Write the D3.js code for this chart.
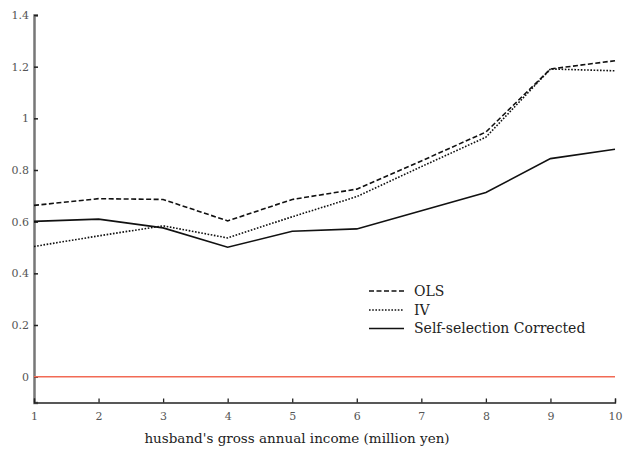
<!DOCTYPE html>
<html><head><meta charset="utf-8">
<script src="https://cdn.jsdelivr.net/npm/d3@7"></script>
<style>body{margin:0;background:#fff}svg{display:block}text{font-family:"DejaVu Serif","Liberation Serif",serif}</style>
</head><body><svg id="c" width="623" height="452"></svg>
<script>
const incomes = [1,2,3,4,5,6,7,8,9,10];
const olsValues = [0.663,0.689,0.686,0.603,0.686,0.726,0.835,0.947,1.191,1.223];
const ivValues  = [0.504,0.545,0.584,0.537,0.619,0.697,0.813,0.927,1.191,1.184];
const scValues  = [0.601,0.610,0.576,0.501,0.563,0.572,0.642,0.713,0.844,0.880];
const yTicks = [0,0.2,0.4,0.6,0.8,1,1.2,1.4];
const xLabel = "husband's gross annual income (million yen)";
const seriesNames = ["OLS","IV","Self-selection Corrected"];

const svg = d3.select("#c");
const x = d3.scaleLinear().domain([1,10]).range([34,615]);
const y = d3.scaleLinear().domain([-0.1,1.4]).range([402.5,15]);

// y axis
const ya = svg.append("g").attr("transform","translate(34,0)")
  .call(d3.axisRight(y).tickValues(yTicks).tickSize(4).tickFormat(d=>d3.format("")(+d.toFixed(1))));
ya.select(".domain").attr("stroke","#777").attr("stroke-width",2.5);
ya.selectAll(".tick line").attr("stroke","#222").attr("stroke-width",1.5);
ya.selectAll(".tick text").attr("x",-5).attr("text-anchor","end").attr("fill","#555").attr("font-size",11);

// x axis
const xa = svg.append("g").attr("transform","translate(0,402.5)")
  .call(d3.axisTop(x).tickValues(incomes).tickSize(4).tickFormat(d3.format("d")));
xa.select(".domain").attr("stroke","#222").attr("stroke-width",1.3);
xa.selectAll(".tick line").attr("stroke","#222").attr("stroke-width",1.3);
xa.selectAll(".tick text").attr("y",10).attr("dy","0.71em").attr("fill","#555").attr("font-size",11);

svg.append("text").attr("x",297).attr("y",443).attr("text-anchor","middle")
  .attr("font-size",13.5).attr("fill","#222").text(xLabel);

// zero line
svg.append("line").attr("x1",x(1)).attr("x2",x(10)).attr("y1",y(0)).attr("y2",y(0))
  .attr("stroke","#f26a55").attr("stroke-width",1.5);

const styles = [
  {vals:olsValues, dash:"5,2.5", w:1.6},
  {vals:ivValues, dash:"1.6,1.6", w:1.6},
  {vals:scValues, dash:null, w:1.6}
];
const line = d3.line().x((d,i)=>x(incomes[i])).y(d=>y(d));
styles.forEach(s=>{
  svg.append("path").datum(s.vals).attr("d",line).attr("fill","none")
    .attr("stroke","#111").attr("stroke-width",s.w)
    .attr("stroke-dasharray",s.dash);
});

// legend
const legY = [291,310,328.5];
styles.forEach((s,i)=>{
  svg.append("line").attr("x1",369).attr("x2",404).attr("y1",legY[i]).attr("y2",legY[i])
    .attr("stroke","#111").attr("stroke-width",s.w).attr("stroke-dasharray",s.dash);
  svg.append("text").attr("x",414).attr("y",legY[i]).attr("dy","0.35em")
    .attr("font-size",14).attr("fill","#222").text(seriesNames[i]);
});
</script></body></html>
